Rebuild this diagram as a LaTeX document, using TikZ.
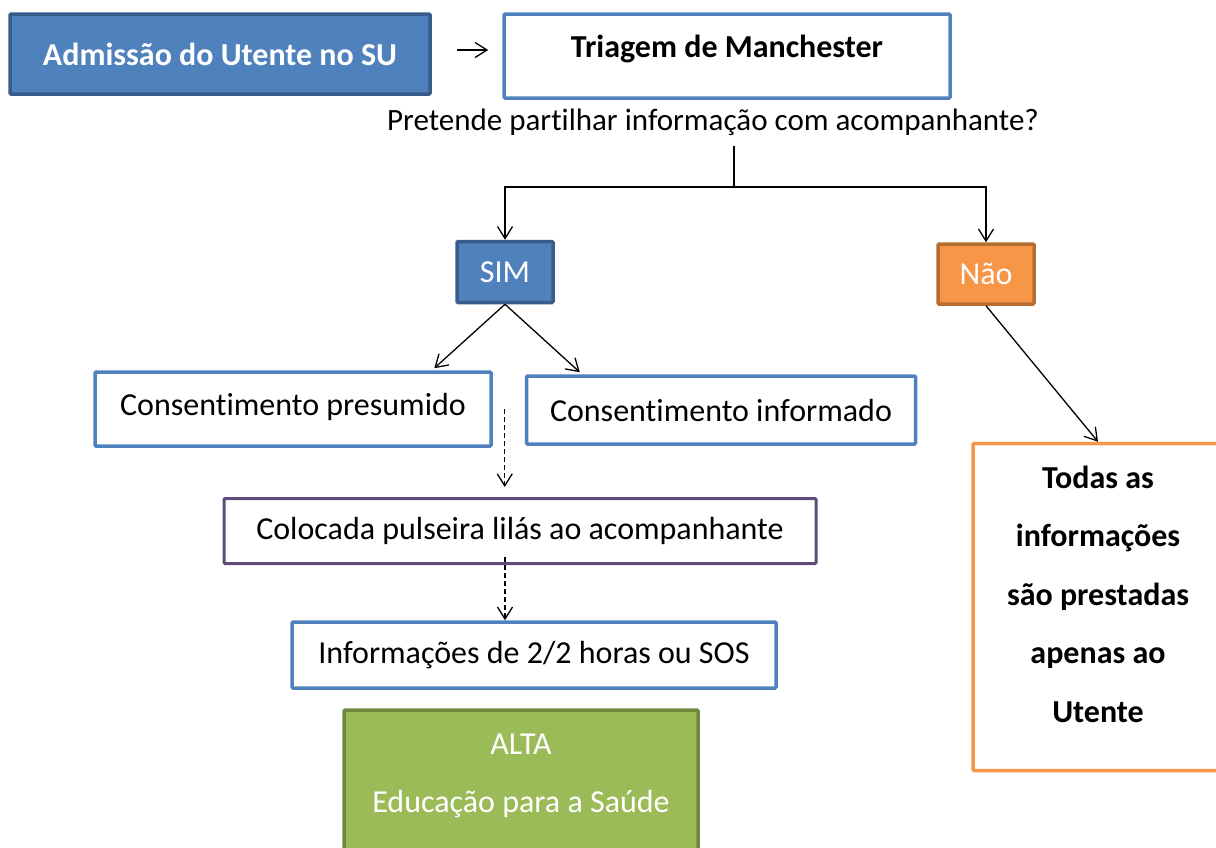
\documentclass[tikz,border=0pt]{standalone}
\usepackage{fontspec}
\setmainfont{Carlito}[Ligatures={NoCommon,NoContextual}, RawFeature={-liga;-clig;-calt}]
\usetikzlibrary{arrows.meta}

\definecolor{azul}{HTML}{4F81BD}
\definecolor{azulescuro}{HTML}{385D8A}
\definecolor{laranja}{HTML}{F79646}
\definecolor{laranjaescuro}{HTML}{B66D31}
\definecolor{verde}{HTML}{9BBB59}
\definecolor{verdeescuro}{HTML}{71893F}
\definecolor{lilas}{HTML}{604A7B}

\tikzset{
  caixa/.style={draw=azul, line width=3.5pt, fill=white, inner sep=0pt, rounded corners=1pt},
  cheia/.style={caixa, text=white},
  seta/.style={-{Straight Barb[length=12pt,width=15pt]}, line width=1.3pt},
  tracejada/.style={seta, dashed, dash pattern=on 5pt off 3pt}
}

\begin{document}
\fontsize{32}{38}\selectfont
\begin{tikzpicture}[x=1pt,y=-1pt]
\useasboundingbox (0,0) rectangle (1216,847);
\clip (0,0) rectangle (1216,847);

\node[cheia, fill=azul, draw=azulescuro, font=\bfseries, minimum width=420pt, minimum height=80pt] (admissao) at (220,54) {Admissão do Utente no SU};
\node[caixa, font=\bfseries, minimum width=446pt, minimum height=84pt, text depth=19pt] (triagem) at (727,56) {Triagem de Manchester};
\node[font=\fontsize{31}{37}\selectfont] (pergunta) at (713,122) {Pretende partilhar informação com acompanhante?};
\coordinate (ramo) at (734,187);

\node[cheia, fill=azul, draw=azulescuro, minimum width=96pt, minimum height=61pt] (sim) at (505,272) {SIM};
\node[cheia, fill=laranja, draw=laranjaescuro, minimum width=96pt, minimum height=60pt] (nao) at (986,274) {Não};

\node[caixa, minimum width=396pt, minimum height=74pt, text depth=9pt] (presumido) at (293,409) {Consentimento presumido};
\node[caixa, minimum width=389pt, minimum height=68pt] (informado) at (721,410) {Consentimento informado};
\node[caixa, draw=lilas, line width=3pt, minimum width=592pt, minimum height=65pt] (colocada) at (520,531) {Colocada pulseira lilás ao acompanhante};
\node[caixa, minimum width=484pt, minimum height=66pt] (info) at (534,655) {Informações de 2/2 horas ou SOS};
\node[cheia, fill=verde, draw=verdeescuro, align=center, font=\fontsize{32}{58}\selectfont, minimum width=354pt, minimum height=170pt, text depth=44pt] (alta) at (521,795) {ALTA\\Educação para a Saúde};

\node[caixa, draw=laranja, align=center, font=\bfseries\fontsize{32}{58.5}\selectfont, minimum width=250pt, minimum height=327pt, text depth=26pt] (todas) at (1098,607) {Todas as\\informações\\são prestadas\\apenas ao\\Utente};

\draw[seta, shorten <=25pt, shorten >=14pt] ([yshift=4pt]admissao.east) -- ([yshift=6pt]triagem.west);
\draw[line width=1.3pt] (pergunta.south -| ramo) -- (ramo);
\foreach \to in {sim, nao}
  \draw[seta] (ramo) -| (\to);
\draw[seta, shorten >=3pt] (sim.south) -- ([xshift=139pt]presumido.north);
\draw[seta, shorten >=3pt] (sim.south) -- ([xshift=-139pt]informado.north);
\draw[seta] (nao.south) -- (todas.north);
\draw[tracejada, shorten >=10pt] ([xshift=12pt]presumido.east) -- ([xshift=12pt]presumido.east |- colocada.north);
\draw[tracejada] ([xshift=-15pt,yshift=8pt]colocada.south) -- ([xshift=-15pt]colocada.south |- info.north);
\end{tikzpicture}
\end{document}
